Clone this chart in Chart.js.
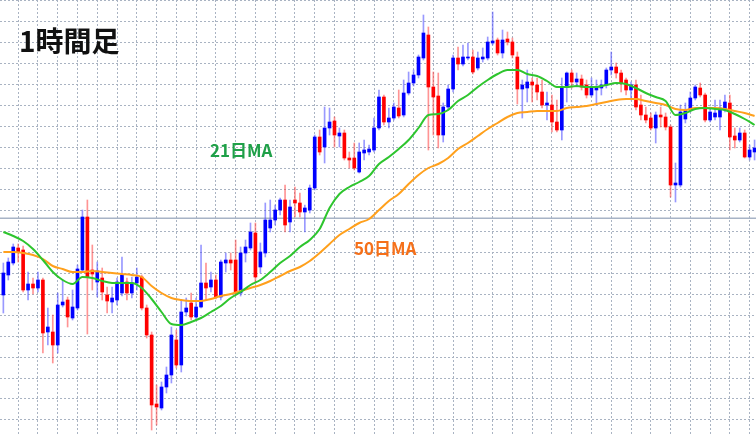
<!DOCTYPE html>
<html>
<head>
<meta charset="utf-8">
<script src="https://cdn.jsdelivr.net/npm/chart.js@4"></script>
<style>
  html, body { margin: 0; padding: 0; background: #ffffff; }
  #wrap { width: 756px; height: 436px; position: relative; }
</style>
</head>
<body>
<div id="wrap"><canvas id="chart"></canvas></div>
<script>
// 1時間足 price data (chart units)
const opens = [141,161,173,188,186,146,152,148,156,104,104,91,131,136,118,128,166,219,166,154,
  158,141,134,136,143,154,143,153,159,128,101,32,28,49,61,96,71,124,133,119,
  129,153,149,156,139,173,176,176,143,183,188,203,169,183,208,216,226,236,214,236,
  233,224,226,248,299,289,308,315,300,303,278,278,264,283,284,286,308,339,314,318,
  328,321,343,353,361,378,401,349,340,301,329,347,378,372,378,379,368,377,378,393,
  396,383,397,394,379,347,348,354,351,344,331,331,314,306,349,363,354,357,351,341,
  346,348,351,366,369,363,356,346,351,331,321,318,308,321,319,309,251,251,317,326,
  338,348,341,316,319,319,326,333,300,296,303,279,284];
const closes = [163,174,189,184,146,152,148,156,103,109,91,131,134,119,129,167,219,159,162,165,
  144,135,138,154,161,143,153,159,128,101,31,29,49,61,101,71,124,128,119,129,
  153,148,156,139,174,176,173,143,183,189,204,159,184,216,216,226,236,211,229,233,
  224,228,248,299,284,308,314,301,303,278,276,268,284,286,287,308,339,314,318,329,
  320,343,353,361,379,403,349,339,301,329,347,378,372,379,379,364,378,379,394,395,
  383,396,394,381,347,351,354,351,344,331,333,314,306,349,363,354,357,349,341,348,
  349,351,366,369,363,353,346,351,329,321,316,308,321,319,309,251,253,324,326,338,
  349,341,316,324,323,328,334,299,296,303,279,286,288];
const highs = [173,178,192,192,190,164,158,164,158,128,121,143,156,139,146,171,226,236,191,174,
  168,149,149,158,179,158,159,168,161,131,104,51,54,69,109,106,136,138,143,138,
  191,173,164,161,176,183,183,196,189,196,213,213,193,233,236,231,238,251,236,249,
  243,231,251,301,306,329,328,319,308,306,284,293,293,296,291,318,346,341,328,333,
  346,356,364,366,381,421,409,364,363,333,351,381,389,391,393,386,384,388,399,424,
  398,406,404,398,384,356,366,358,358,356,344,341,336,358,364,366,363,361,356,358,
  356,356,368,384,373,366,358,354,356,341,329,323,324,329,323,311,273,331,333,344,
  351,353,343,329,336,336,341,341,308,308,306,291,296];
const lows = [123,156,171,174,144,136,142,144,83,91,73,83,129,109,116,126,164,102,146,139,
  136,123,123,131,140,136,138,146,126,98,6,11,26,43,53,68,64,120,116,116,
  128,136,144,137,136,164,166,141,140,174,186,153,163,179,204,211,221,204,204,219,
  219,204,223,246,281,273,301,289,289,276,268,266,263,276,281,284,306,311,308,316,
  318,319,341,350,358,376,286,301,288,294,326,344,366,370,376,362,366,374,376,391,
  381,378,391,378,332,318,334,334,336,328,316,304,304,296,334,348,349,346,338,339,
  331,341,348,361,358,344,341,336,326,316,313,306,293,309,306,239,234,249,313,324,
  336,339,314,314,316,306,324,286,288,294,278,276,276];

// moving averages, read every 2 bars
const maStep = 2;
const ma21 = [204,200,195,187,176,164,156,152,159,158,155,153,153,153,148,137,124,112,111,114,
  118,124,130,138,144,151,156,164,173,180,189,196,207,228,242,249,254,260,272,279,
  287,296,308,321,322,326,335,341,349,356,362,366,366,362,360,355,349,349,350,349,
  349,351,353,352,348,343,339,335,321,323,327,328,327,326,322,317,311];
const ma50 = [184,184,183,181,177,170,167,164,164,165,164,163,162,161,159,150,143,138,136,135,
  135,137,140,142,145,148,151,155,160,165,169,175,183,192,201,207,213,217,226,235,
  242,252,261,268,272,278,287,293,300,307,313,319,323,324,325,325,325,328,329,330,
  332,334,336,337,337,335,333,331,327,326,328,328,328,327,325,323,320];
const priceLevel = 217.7;

const upColor = '#0000ff', downColor = '#ff0000';
const upWick = 'rgba(70, 70, 255, 0.55)', downWick = 'rgba(255, 60, 60, 0.55)';

const isUp = opens.map((o, i) => closes[i] >= o);
const bodies = opens.map((o, i) => ({ x: i, y: [o, closes[i]] }));
const wicks = lows.map((l, i) => ({ x: i, y: [l, highs[i]] }));
const ma21Pts = ma21.map((v, k) => ({ x: k * maStep, y: v }));
const ma50Pts = ma50.map((v, k) => ({ x: k * maStep, y: v }));
const levelPts = [{ x: -2, y: priceLevel }, { x: 155, y: priceLevel }];

const labelsPlugin = {
    id: 'labels',
    afterDraw(chart) {
        const ctx = chart.ctx;
        ctx.save();
        ctx.textBaseline = 'middle';
        ctx.fillStyle = '#111111';
        ctx.font = 'bold 28px "Noto Sans CJK JP", "Noto Sans", sans-serif';
        ctx.fillText('1時間足', 19, 41);
        ctx.font = 'bold 17px "Noto Sans CJK JP", "Noto Sans", sans-serif';
        ctx.fillStyle = '#1fa048';
        ctx.fillText('21日MA', 210, 151);
        ctx.fillStyle = '#f5701a';
        ctx.fillText('50日MA', 354, 249);
        ctx.restore();
    }
};

const gridColor = '#a9b3c2';

new Chart(document.getElementById('chart'), {
    type: 'bar',
    data: {
        datasets: [
            {
                type: 'line', label: '21MA', data: ma21Pts, order: 0,
                borderColor: '#2ec52e', borderWidth: 2, pointRadius: 0,
                cubicInterpolationMode: 'monotone'
            },
            {
                type: 'line', label: '50MA', data: ma50Pts, order: 0,
                borderColor: '#ffa01c', borderWidth: 2, pointRadius: 0,
                cubicInterpolationMode: 'monotone'
            },
            {
                label: 'body', data: bodies, order: 1, grouped: false,
                backgroundColor: isUp.map(u => u ? upColor : downColor),
                barThickness: 3, minBarLength: 1, borderWidth: 0
            },
            {
                label: 'wick', data: wicks, order: 2, grouped: false,
                backgroundColor: isUp.map(u => u ? upWick : downWick),
                barThickness: 1, borderWidth: 0
            },
            {
                type: 'line', label: 'level', data: levelPts, order: 3,
                borderColor: '#a7b3c6', borderWidth: 1.5, pointRadius: 0
            }
        ]
    },
    options: {
        responsive: true,
        maintainAspectRatio: false,
        animation: false,
        layout: { padding: 0 },
        plugins: { legend: { display: false }, tooltip: { enabled: false } },
        scales: {
            x: {
                type: 'linear', offset: false,
                min: -0.68, max: 152.29,
                afterBuildTicks: (scale) => {
                    const t = [];
                    for (let i = 1; i <= 153; i += 4) t.push({ value: i });
                    scale.ticks = t;
                },
                ticks: { display: false },
                grid: { color: gridColor, lineWidth: 1, drawTicks: false },
                border: { display: false, dash: [2, 2] }
            },
            y: {
                min: 0, max: 436,
                afterBuildTicks: (scale) => {
                    const t = [];
                    for (let k = 0; k <= 20; k++) t.push({ value: 435.26 - 20.96 * k });
                    scale.ticks = t;
                },
                ticks: { display: false },
                grid: { color: gridColor, lineWidth: 1, drawTicks: false },
                border: { display: false, dash: [2, 2] }
            }
        }
    },
    plugins: [labelsPlugin]
});
</script>
</body>
</html>
